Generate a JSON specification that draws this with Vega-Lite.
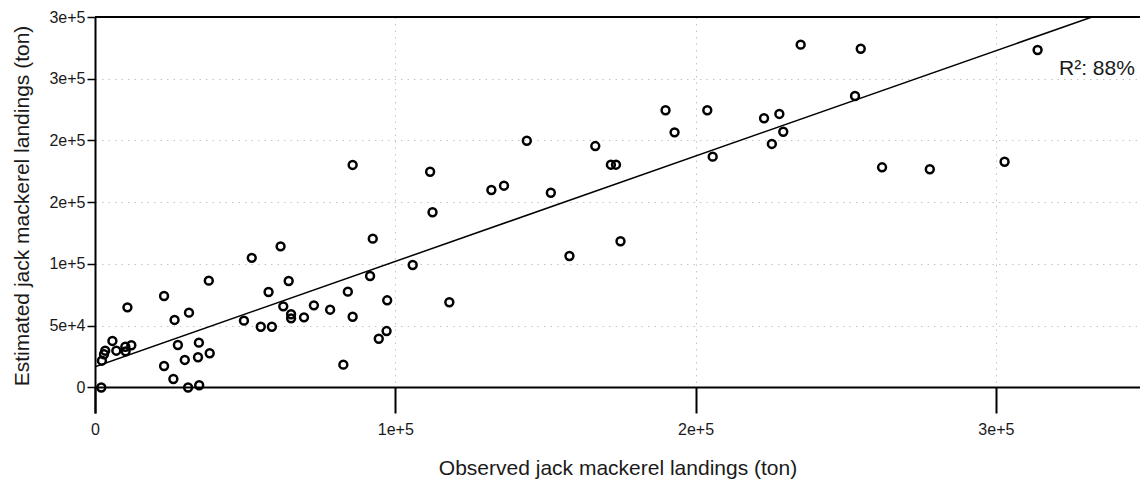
{
  "$schema": "https://vega.github.io/schema/vega-lite/v6.json",
  "width": 1045,
  "height": 396,
  "autosize": {"type": "none"},
  "padding": {"left": 95, "top": 17, "right": 0, "bottom": 67},
  "background": "white",
  "config": {"view": {"stroke": null}, "font": "Liberation Sans"},
  "datasets": {
    "points": [
      {"observed": 2100, "estimated": 0},
      {"observed": 2300, "estimated": 21700},
      {"observed": 3000, "estimated": 26900},
      {"observed": 3400, "estimated": 29800},
      {"observed": 5800, "estimated": 37700},
      {"observed": 7100, "estimated": 29800},
      {"observed": 10100, "estimated": 33000},
      {"observed": 10200, "estimated": 29300},
      {"observed": 12100, "estimated": 34200},
      {"observed": 10800, "estimated": 64900},
      {"observed": 23000, "estimated": 74100},
      {"observed": 26500, "estimated": 54700},
      {"observed": 23000, "estimated": 17400},
      {"observed": 26100, "estimated": 6900},
      {"observed": 27600, "estimated": 34400},
      {"observed": 29900, "estimated": 22300},
      {"observed": 31000, "estimated": 0},
      {"observed": 31300, "estimated": 60600},
      {"observed": 34700, "estimated": 1800},
      {"observed": 34600, "estimated": 36300},
      {"observed": 34300, "estimated": 24500},
      {"observed": 38200, "estimated": 27700},
      {"observed": 37900, "estimated": 86500},
      {"observed": 49600, "estimated": 54100},
      {"observed": 55200, "estimated": 49200},
      {"observed": 57800, "estimated": 77300},
      {"observed": 52200, "estimated": 105000},
      {"observed": 58900, "estimated": 49200},
      {"observed": 61800, "estimated": 114300},
      {"observed": 64500, "estimated": 86200},
      {"observed": 62700, "estimated": 65700},
      {"observed": 65300, "estimated": 59300},
      {"observed": 65300, "estimated": 56000},
      {"observed": 69600, "estimated": 56800},
      {"observed": 72900, "estimated": 66500},
      {"observed": 78300, "estimated": 63000},
      {"observed": 82700, "estimated": 18500},
      {"observed": 84200, "estimated": 77600},
      {"observed": 85800, "estimated": 57300},
      {"observed": 92500, "estimated": 120500},
      {"observed": 91600, "estimated": 90300},
      {"observed": 97300, "estimated": 70600},
      {"observed": 97100, "estimated": 45700},
      {"observed": 94500, "estimated": 39500},
      {"observed": 105800, "estimated": 99200},
      {"observed": 85800, "estimated": 180200},
      {"observed": 118000, "estimated": 69000},
      {"observed": 111600, "estimated": 174700},
      {"observed": 112400, "estimated": 141900},
      {"observed": 132000, "estimated": 159900},
      {"observed": 136200, "estimated": 163400},
      {"observed": 143800, "estimated": 199800},
      {"observed": 151800, "estimated": 157700},
      {"observed": 158000, "estimated": 106500},
      {"observed": 166600, "estimated": 195500},
      {"observed": 171800, "estimated": 180400},
      {"observed": 173500, "estimated": 180400},
      {"observed": 175000, "estimated": 118400},
      {"observed": 190000, "estimated": 224500},
      {"observed": 193000, "estimated": 206600},
      {"observed": 203900, "estimated": 224500},
      {"observed": 205700, "estimated": 186900},
      {"observed": 222800, "estimated": 218000},
      {"observed": 227900, "estimated": 221500},
      {"observed": 229200, "estimated": 207100},
      {"observed": 225400, "estimated": 197200},
      {"observed": 235000, "estimated": 277600},
      {"observed": 255000, "estimated": 274300},
      {"observed": 253100, "estimated": 236000},
      {"observed": 262100, "estimated": 178300},
      {"observed": 278000, "estimated": 176700},
      {"observed": 302900, "estimated": 182800},
      {"observed": 313900, "estimated": 273300}
    ],
    "fit": [
      {"observed": 0, "estimated": 16800},
      {"observed": 332000, "estimated": 300000}
    ]
  },
  "layer": [
    {
      "data": {"name": "points"},
      "mark": {"type": "point", "shape": "circle", "filled": false, "stroke": "black", "strokeWidth": 2.5, "size": 62, "opacity": 1},
      "encoding": {
        "x": {
          "field": "observed", "type": "quantitative",
          "scale": {"domain": [0, 348000], "nice": false, "zero": false},
          "axis": {
            "title": "Observed jack mackerel landings (ton)",
            "values": [0, 100000, 200000, 300000],
            "labelExpr": "datum.value == 0 ? '0' : format(datum.value, '.0e')",
            "labelFlush": false,
            "labelFontSize": 16,
            "labelColor": "#1a1a1a",
            "labelPadding": 8,
            "domain": false,
            "offset": -25.5,
            "tickSize": 25.5,
            "tickWidth": 2,
            "tickColor": "black",
            "grid": true,
            "gridColor": "#c4c4c4",
            "gridDash": [1.5, 5],
            "gridWidth": 1,
            "titleFontSize": 21,
            "titleFontWeight": "normal",
            "titleColor": "#1a1a1a",
            "titlePadding": 20
          }
        },
        "y": {
          "field": "estimated", "type": "quantitative",
          "scale": {"domain": [-20650, 300000], "nice": false, "zero": false},
          "axis": {
            "title": "Estimated jack mackerel landings (ton)",
            "values": [0, 50000, 100000, 150000, 200000, 250000, 300000],
            "labelExpr": "datum.value == 0 ? '0' : format(datum.value, '.0e')",
            "labelFlush": false,
            "labelFontSize": 16,
            "labelColor": "#1a1a1a",
            "labelPadding": 2,
            "domainColor": "black",
            "domainWidth": 2,
            "tickSize": 8,
            "tickWidth": 1.5,
            "tickColor": "black",
            "grid": true,
            "gridColor": "#c4c4c4",
            "gridDash": [1.5, 5],
            "gridWidth": 1,
            "titleFontSize": 21,
            "titleFontWeight": "normal",
            "titleColor": "#1a1a1a",
            "titlePadding": 16,
            "titleY": 188.5
          }
        }
      }
    },
    {
      "data": {"name": "fit"},
      "mark": {"type": "line", "color": "black", "strokeWidth": 1.5, "clip": true},
      "encoding": {
        "x": {"field": "observed", "type": "quantitative"},
        "y": {"field": "estimated", "type": "quantitative"}
      }
    },
    {
      "data": {"values": [{}]},
      "mark": {"type": "rule", "color": "black", "strokeWidth": 2},
      "encoding": {"y": {"datum": 0}}
    },
    {
      "data": {"values": [{}]},
      "mark": {"type": "rule", "color": "black", "strokeWidth": 2},
      "encoding": {"y": {"datum": 300000}}
    },
    {
      "data": {"values": [{}]},
      "mark": {"type": "text", "text": "R²: 88%", "align": "right", "baseline": "alphabetic", "fontSize": 21, "color": "#1a1a1a"},
      "encoding": {"x": {"datum": 346300}, "y": {"datum": 253000}}
    }
  ]
}
